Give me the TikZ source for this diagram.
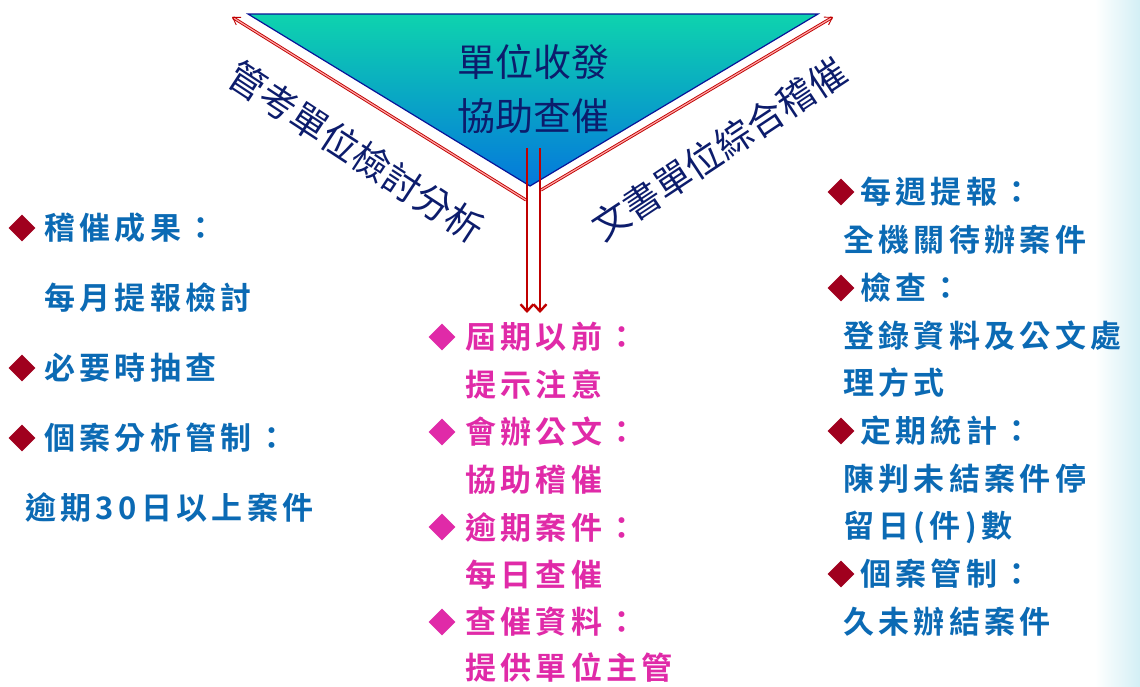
\documentclass[tikz,border=0pt]{standalone}
\usepackage{fontspec}
\usetikzlibrary{arrows.meta,shapes.geometric}
\newfontfamily\cjk{Noto Sans CJK TC}
\newfontfamily\cjksp[LetterSpace=14]{Noto Sans CJK TC Bold}
\definecolor{txtblue}{HTML}{0B6AB4}
\definecolor{dred}{HTML}{A0001E}
\definecolor{mag}{HTML}{E02AA8}
\definecolor{navy}{HTML}{0C1C6C}
\definecolor{arrred}{HTML}{C00000}
\definecolor{bgcyan}{HTML}{D3EFF5}
\definecolor{tritop}{HTML}{0ED3AE}
\definecolor{trimid}{HTML}{22CFE0}
\definecolor{tribot}{HTML}{0478DC}
\begin{document}
\begin{tikzpicture}[x=1pt,y=-1pt,
  diam/.style={diamond,aspect=1,inner sep=0pt,minimum width=27pt,minimum height=27pt,fill=dred},
  mdiam/.style={diam,fill=mag},
  bluetxt/.style={anchor=west,inner sep=0pt,text=txtblue,font=\cjksp\fontsize{31}{31}\selectfont},
  magtxt/.style={anchor=west,inner sep=0pt,text=mag,font=\cjksp\fontsize{31}{31}\selectfont},
  sidetxt/.style={inner sep=0pt,text=navy,font=\cjk\fontsize{37}{37}\selectfont},
  tritxt/.style={inner sep=0pt,text=navy,font=\cjk\fontsize{38}{38}\selectfont},
  sidearrow/.style={draw=arrred,double=red!35,double distance=1.2pt,line width=0.9pt,-{Straight Barb[length=7pt,width=9pt]}},
  downarrow/.style={draw=arrred,line width=2.4pt,-{Straight Barb[length=7pt,width=13pt]}}
]
\useasboundingbox (0,0) rectangle (1140,686);
\fill[white] (0,0) rectangle (1140,686);
\shade[left color=white,right color=bgcyan] (1095,0) rectangle (1140,686);

% triangle
\coordinate (tl) at (248,14);
\coordinate (tr) at (818,14);
\coordinate (ap) at (530,186);
\shade[top color=tritop,middle color=trimid,bottom color=tribot] (tl) -- (tr) -- (ap) -- cycle;
\draw[draw=navy!70!blue,line width=1.2pt,line join=miter] (tl) -- (tr) -- (ap) -- cycle;
\node[tritxt] (t1) at (533,62) {單位收發};
\node[tritxt] (t2) at (533,116) {協助查催};

% arrows
\coordinate (las) at (526,200);
\coordinate (lae) at (232,17);
\coordinate (ras) at (541,190);
\coordinate (rae) at (833,17);
\draw[sidearrow] (las) -- (lae);
\draw[sidearrow] (ras) -- (rae);
\coordinate (v1s) at (527,148);
\coordinate (v1e) at (527,313);
\coordinate (v2s) at (540,148);
\coordinate (v2e) at (540,313);
\draw[downarrow] (v1s) -- (v1e);
\draw[downarrow] (v2s) -- (v2e);

\node[sidetxt,rotate=-33.2] (sl) at (356,152) {管考單位檢討分析};
\node[sidetxt,rotate=33.5] (sr) at (719,149) {文書單位綜合稽催};

% left column
\node[diam] (ld1) at (22,228) {};
\node[bluetxt] (l1) at (44,228) {稽催成果：};
\node[bluetxt] (l2) at (44,298) {每月提報檢討};
\node[diam] (ld2) at (22,368) {};
\node[bluetxt] (l3) at (44,368) {必要時抽查};
\node[diam] (ld3) at (22,438) {};
\node[bluetxt] (l4) at (44,438) {個案分析管制：};
\node[bluetxt] (l5) at (25,507) {逾期30日以上案件};

% middle column
\node[mdiam] (md1) at (442,337) {};
\node[magtxt] (m1) at (465,337) {屆期以前：};
\node[magtxt] (m2) at (465,384) {提示注意};
\node[mdiam] (md2) at (442,432) {};
\node[magtxt] (m3) at (465,432) {會辦公文：};
\node[magtxt] (m4) at (465,480) {協助稽催};
\node[mdiam] (md3) at (442,527) {};
\node[magtxt] (m5) at (465,527) {逾期案件：};
\node[magtxt] (m6) at (465,575) {每日查催};
\node[mdiam] (md4) at (442,622) {};
\node[magtxt] (m7) at (465,622) {查催資料：};
\node[magtxt] (m8) at (465,668) {提供單位主管};

% right column
\node[diam] (rd1) at (841,192) {};
\node[bluetxt] (r1) at (860,192) {每週提報：};
\node[bluetxt] (r2) at (843,240) {全機關待辦案件};
\node[diam] (rd2) at (841,288) {};
\node[bluetxt] (r3) at (860,288) {檢查：};
\node[bluetxt] (r4) at (843,336) {登錄資料及公文處};
\node[bluetxt] (r5) at (843,383) {理方式};
\node[diam] (rd3) at (841,431) {};
\node[bluetxt] (r6) at (860,431) {定期統計：};
\node[bluetxt] (r7) at (843,479) {陳判未結案件停};
\node[bluetxt] (r8) at (843,527) {留日(件)數};
\node[diam] (rd4) at (841,574) {};
\node[bluetxt] (r9) at (860,574) {個案管制：};
\node[bluetxt] (r10) at (843,622) {久未辦結案件};
\end{tikzpicture}
\end{document}
